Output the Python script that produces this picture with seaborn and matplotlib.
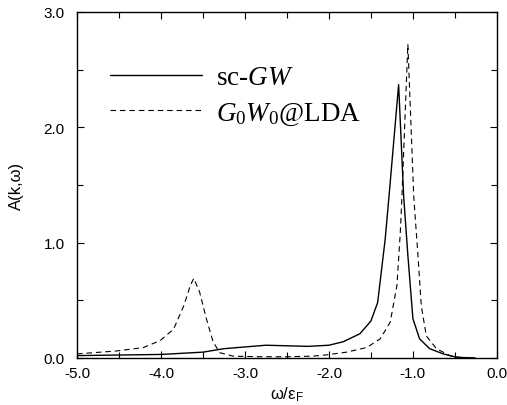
import numpy as np
import pandas as pd
import matplotlib
matplotlib.use("Agg")
import matplotlib.pyplot as plt
from matplotlib.ticker import MultipleLocator
import seaborn as sns

## spectral function
omega_sc = [-5.0, -4.5, -4.0, -3.5, -3.25, -3.0, -2.75, -2.5, -2.25, -2.0, -1.83,
            -1.63, -1.5, -1.42, -1.33, -1.28, -1.17, -1.11, -1.06, -1.0, -0.92,
            -0.8, -0.64, -0.48, -0.26]
A_sc = [0.02, 0.025, 0.03, 0.05, 0.08, 0.095, 0.11, 0.105, 0.10, 0.11, 0.14,
        0.21, 0.32, 0.48, 1.03, 1.44, 2.37, 1.40, 0.89, 0.34, 0.165,
        0.08, 0.035, 0.005, 0.0]

omega_g0 = [-5.0, -4.53, -4.21, -4.01, -3.85, -3.73, -3.65, -3.61, -3.54, -3.46,
            -3.38, -3.30, -3.14, -2.8, -2.5, -2.2, -2.03, -1.79, -1.55, -1.39,
            -1.27, -1.19, -1.15, -1.13, -1.06, -0.99, -0.94, -0.90, -0.84, -0.72,
            -0.56, -0.40]
A_g0 = [0.035, 0.06, 0.09, 0.15, 0.25, 0.45, 0.63, 0.69, 0.57, 0.34,
        0.14, 0.045, 0.015, 0.01, 0.01, 0.015, 0.026, 0.05, 0.09, 0.165,
        0.31, 0.63, 1.09, 1.41, 2.72, 1.40, 0.89, 0.45, 0.19, 0.08,
        0.02, 0.0]

labels = [r"sc-$\mathit{GW}$", r"$\mathit{G}_0\mathit{W}_0$@LDA"]
xticks = [-5.0, -4.0, -3.0, -2.0, -1.0, 0.0]
yticks = [0.0, 1.0, 2.0, 3.0]

sns.set_style("ticks")
plt.rcParams["font.family"] = ["Liberation Sans", "DejaVu Sans"]
plt.rcParams["mathtext.fontset"] = "custom"
plt.rcParams["mathtext.rm"] = "Liberation Serif"
plt.rcParams["mathtext.it"] = "Liberation Serif:italic"
plt.rcParams["mathtext.sf"] = "Liberation Sans"
for k in ["text.color", "axes.labelcolor", "xtick.color", "ytick.color"]:
    plt.rcParams[k] = "black"

df_sc = pd.DataFrame({"omega": omega_sc, "A": A_sc})
df_g0 = pd.DataFrame({"omega": omega_g0, "A": A_g0})

fig, ax = plt.subplots(figsize=(5.07, 4.06), dpi=100)
fig.subplots_adjust(left=0.152, right=0.980, top=0.968, bottom=0.116)

sns.lineplot(data=df_sc, x="omega", y="A", ax=ax, color="black", lw=1.0,
             label=labels[0], sort=False)
sns.lineplot(data=df_g0, x="omega", y="A", ax=ax, color="black", lw=0.8,
             linestyle=(0, (5, 3.5)), label=labels[1], sort=False)

ax.set_xlim(-5.0, 0.0)
ax.set_ylim(0.0, 3.0)
ax.set_xticks(xticks)
ax.set_yticks(yticks)
ax.set_xticklabels(["%.1f" % t for t in xticks])
ax.set_yticklabels(["%.1f" % t for t in yticks])
ax.xaxis.set_minor_locator(MultipleLocator(0.5))
ax.yaxis.set_minor_locator(MultipleLocator(0.5))
ax.tick_params(which="both", direction="in", top=True, right=True,
               labelsize=11, length=5, width=0.8)
ax.tick_params(axis="y", pad=9)
ax.tick_params(axis="x", pad=6)
ax.tick_params(which="minor", length=4)
for s in ax.spines.values():
    s.set_linewidth(1.0)
    s.set_color("black")

ax.set_xlabel("ω/ε$_\\mathsf{F}$", fontsize=12, labelpad=3)
ax.set_ylabel("A(k,ω)", fontsize=12, labelpad=14)

leg = ax.legend(loc="upper left", bbox_to_anchor=(0.047, 0.885), frameon=False,
                prop={"family": "Liberation Serif", "size": 19.5},
                handlelength=3.4, handletextpad=0.5, labelspacing=0.38,
                borderpad=0)

fig.savefig("out.png", dpi=100)
